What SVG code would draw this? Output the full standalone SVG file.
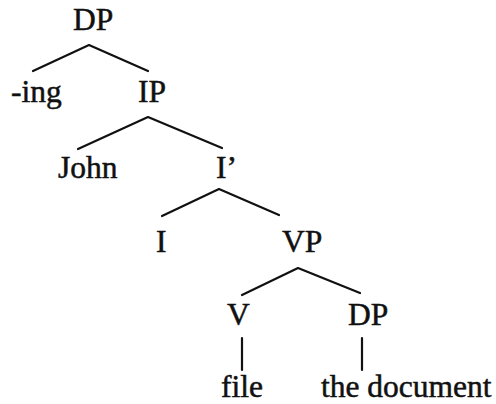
<svg xmlns="http://www.w3.org/2000/svg" width="496" height="404" viewBox="0 0 496 404">
  <style>
    .lbl { font-family: "Liberation Serif", "Times New Roman", serif; font-size: 31.5px; fill: #111; stroke: #111; stroke-width: 0.5; }
    .edge { stroke: #111; stroke-width: 2.2; fill: none; stroke-linecap: round; stroke-linejoin: round; }
  </style>
  <rect width="496" height="404" fill="#fff"/>
  <g id="connectors">
    <polyline class="edge" points="33,71 89,45 148,71"/>
    <polyline class="edge" points="78,149 148,117 222,148"/>
    <polyline class="edge" points="162,216 219,189 279,215"/>
    <polyline class="edge" points="242,295 298,268 360,293"/>
    <line class="edge" x1="242" y1="338" x2="242" y2="370"/>
    <line class="edge" x1="362" y1="338" x2="362" y2="370"/>
  </g>
  <g id="n-dp"><text class="lbl" x="73" y="30">DP</text></g>
  <g id="n-ing"><text class="lbl" x="11" y="102">-ing</text></g>
  <g id="n-ip"><text class="lbl" x="138" y="102">IP</text></g>
  <g id="n-john"><text class="lbl" x="58" y="178">John</text></g>
  <g id="n-ibar"><text class="lbl" x="216" y="178">I’</text></g>
  <g id="n-i"><text class="lbl" x="156" y="252">I</text></g>
  <g id="n-vp"><text class="lbl" x="282" y="252">VP</text></g>
  <g id="n-v"><text class="lbl" x="227" y="325">V</text></g>
  <g id="n-dp2"><text class="lbl" x="348" y="325">DP</text></g>
  <g id="n-file"><text class="lbl" x="221" y="397">file</text></g>
  <g id="n-doc"><text class="lbl" x="321" y="397">the document</text></g>
</svg>
